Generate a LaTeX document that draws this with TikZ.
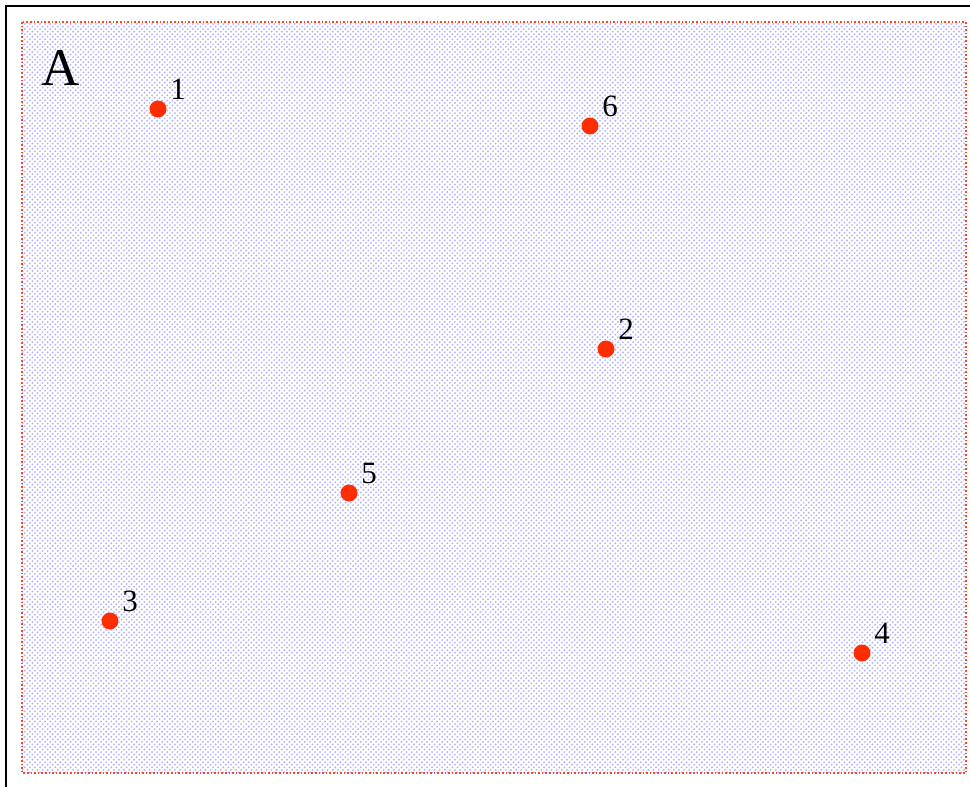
\documentclass[tikz,border=0pt]{standalone}
\usepackage{fontspec}
\setmainfont{Liberation Serif}
\usetikzlibrary{patterns.meta}
\definecolor{hatch}{RGB}{175,175,255}
\definecolor{dotred}{RGB}{255,45,0}
\definecolor{framered}{RGB}{255,70,30}
\begin{document}
\begin{tikzpicture}[x=1pt,y=-1pt,
  dot/.style={circle,fill=dotred,inner sep=0pt,minimum size=17pt},
  lbl/.style={inner sep=0pt,font=\fontsize{31}{31}\selectfont},
  region/.style={draw=framered,dotted,line width=1.6pt,
    pattern={Lines[angle=45,distance=3.6pt,line width=1.3pt]},pattern color=hatch}]
\useasboundingbox (0,0) rectangle (970,787);
\draw[line width=2.5pt] (6,787) -- (6,6) -- (970,6);
\path[region] (22,22) rectangle (966,773);
\node[inner sep=0pt,font=\fontsize{53}{53}\selectfont] (A) at (61,68) {A};
\foreach \n/\x/\y in {1/158/109,6/590/126,2/606/349,5/349/493,3/110/621,4/862/653}{
  \node[dot] (p\n) at (\x,\y) {};
  \node[lbl] (l\n) at (\x+20,\y-20) {\n};
}
\end{tikzpicture}
\end{document}
